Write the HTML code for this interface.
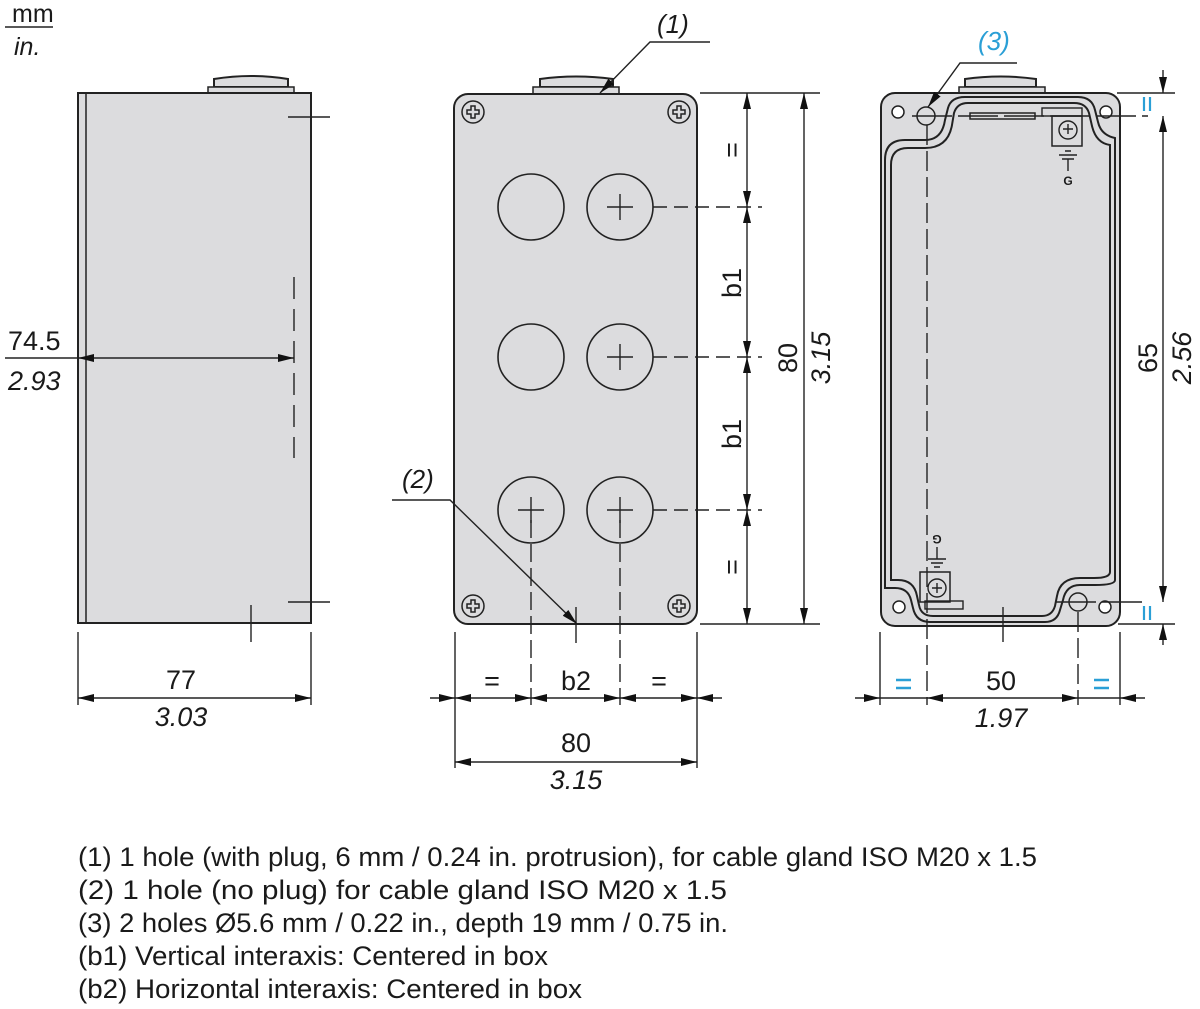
<!DOCTYPE html>
<html><head><meta charset="utf-8"><style>
body{margin:0;background:#fff}
svg{display:block}
text{font-family:"Liberation Sans",Arial,sans-serif;fill:#1a1a1a}
.i{font-style:italic}
.b{fill:#2a9fd6}
</style></head><body>
<svg width="1200" height="1009" viewBox="0 0 1200 1009" xmlns="http://www.w3.org/2000/svg">
<defs>
<marker id="a" viewBox="0 0 16 8" refX="16" refY="4" markerWidth="16" markerHeight="8" markerUnits="userSpaceOnUse" orient="auto-start-reverse"><path d="M0,0 L16,4 L0,8 Z" fill="#111"/></marker>
</defs>
<g stroke="#222" fill="none" stroke-width="1.4">
<!-- units -->
<text x="12" y="22" font-size="25" stroke="none">mm</text>
<line x1="5" y1="27" x2="53" y2="27"/>
<text x="14" y="55" font-size="25" class="i" stroke="none">in.</text>

<!-- LEFT VIEW -->
<path d="M214,87 L214,79 Q251,73 288,79 L288,87 Z" fill="#dcdcde" stroke-width="2"/>
<rect x="208" y="87" width="86" height="6" fill="#dcdcde" stroke-width="1.5"/>
<rect x="78" y="93" width="233" height="530" fill="#dcdcde" stroke-width="2"/>
<line x1="86" y1="93" x2="86" y2="623" stroke-width="1.5"/>
<line x1="288" y1="117" x2="330" y2="117"/>
<line x1="288" y1="602" x2="330" y2="602"/>
<line x1="251" y1="605" x2="251" y2="642"/>
<line x1="294" y1="277" x2="294" y2="458" stroke-dasharray="22,10"/>
<line x1="5" y1="358" x2="78" y2="358"/>
<line x1="78" y1="358" x2="294" y2="358" marker-start="url(#a)" marker-end="url(#a)"/>
<text x="8" y="350" font-size="27" stroke="none">74.5</text>
<text x="8" y="390" font-size="27" class="i" stroke="none">2.93</text>
<line x1="78" y1="632" x2="78" y2="705"/>
<line x1="311" y1="632" x2="311" y2="705"/>
<line x1="78" y1="698" x2="311" y2="698" marker-start="url(#a)" marker-end="url(#a)"/>
<text x="181" y="689" font-size="27" text-anchor="middle" stroke="none">77</text>
<text x="181" y="726" font-size="27" text-anchor="middle" class="i" stroke="none">3.03</text>

<!-- MIDDLE VIEW -->
<path d="M540,87 L540,79 Q576,74 613,79 L613,87 Z" fill="#dcdcde" stroke-width="2"/>
<rect x="533" y="87" width="86" height="7" fill="#dcdcde" stroke-width="1.5"/>
<rect x="454" y="94" width="243" height="530" rx="14" fill="#dcdcde" stroke-width="2"/>
<g stroke-width="1.5">
<circle cx="473" cy="112" r="11"/><circle cx="679" cy="112" r="11"/>
<circle cx="473" cy="606" r="11"/><circle cx="679" cy="606" r="11"/>
<path d="M467,110 h4 v-4 h4 v4 h4 v4 h-4 v4 h-4 v-4 h-4 z M673,110 h4 v-4 h4 v4 h4 v4 h-4 v4 h-4 v-4 h-4 z M467,604 h4 v-4 h4 v4 h4 v4 h-4 v4 h-4 v-4 h-4 z M673,604 h4 v-4 h4 v4 h4 v4 h-4 v4 h-4 v-4 h-4 z"/>
</g>
<g stroke-width="1.6">
<circle cx="531" cy="207" r="33"/><circle cx="620" cy="207" r="33"/>
<circle cx="531" cy="357" r="33"/><circle cx="620" cy="357" r="33"/>
<circle cx="531" cy="510" r="33"/><circle cx="620" cy="510" r="33"/>
</g>
<path d="M607,207 h26 M620,194 v26 M607,357 h26 M620,344 v26 M518,510 h26 M531,497 v26 M607,510 h26 M620,497 v26"/>
<line x1="653" y1="207" x2="762" y2="207" stroke-dasharray="14,7"/>
<line x1="653" y1="357" x2="762" y2="357" stroke-dasharray="14,7"/>
<line x1="653" y1="510" x2="762" y2="510" stroke-dasharray="14,7"/>
<line x1="531" y1="520" x2="531" y2="705" stroke-dasharray="18,6"/>
<line x1="620" y1="520" x2="620" y2="705" stroke-dasharray="18,6"/>
<line x1="576" y1="607" x2="576" y2="643"/>
<line x1="455" y1="632" x2="455" y2="768"/>
<line x1="697" y1="632" x2="697" y2="768"/>
<line x1="700" y1="93" x2="820" y2="93"/>
<line x1="700" y1="624" x2="820" y2="624"/>
<line x1="747" y1="93" x2="747" y2="207" marker-start="url(#a)" marker-end="url(#a)"/>
<line x1="747" y1="207" x2="747" y2="357" marker-start="url(#a)" marker-end="url(#a)"/>
<line x1="747" y1="357" x2="747" y2="510" marker-start="url(#a)" marker-end="url(#a)"/>
<line x1="747" y1="510" x2="747" y2="624" marker-start="url(#a)" marker-end="url(#a)"/>
<line x1="804" y1="93" x2="804" y2="624" marker-start="url(#a)" marker-end="url(#a)"/>
<text transform="translate(741,150) rotate(-90)" font-size="27" text-anchor="middle" stroke="none">=</text>
<text transform="translate(741,283) rotate(-90)" font-size="27" text-anchor="middle" stroke="none">b1</text>
<text transform="translate(741,434) rotate(-90)" font-size="27" text-anchor="middle" stroke="none">b1</text>
<text transform="translate(741,567) rotate(-90)" font-size="27" text-anchor="middle" stroke="none">=</text>
<text transform="translate(797,358) rotate(-90)" font-size="27" text-anchor="middle" stroke="none">80</text>
<text transform="translate(830,358) rotate(-90)" font-size="27" text-anchor="middle" class="i" stroke="none">3.15</text>
<line x1="430" y1="698" x2="455" y2="698" marker-end="url(#a)"/>
<line x1="455" y1="698" x2="531" y2="698" marker-start="url(#a)" marker-end="url(#a)"/>
<line x1="531" y1="698" x2="620" y2="698" marker-start="url(#a)" marker-end="url(#a)"/>
<line x1="620" y1="698" x2="697" y2="698" marker-start="url(#a)" marker-end="url(#a)"/>
<line x1="722" y1="698" x2="697" y2="698" marker-end="url(#a)"/>
<text x="492" y="690" font-size="27" text-anchor="middle" stroke="none">=</text>
<text x="576" y="690" font-size="27" text-anchor="middle" stroke="none">b2</text>
<text x="659" y="690" font-size="27" text-anchor="middle" stroke="none">=</text>
<line x1="455" y1="762" x2="697" y2="762" marker-start="url(#a)" marker-end="url(#a)"/>
<text x="576" y="752" font-size="27" text-anchor="middle" stroke="none">80</text>
<text x="576" y="789" font-size="27" text-anchor="middle" class="i" stroke="none">3.15</text>
<path d="M710,42 L650,42 L600,93" marker-end="url(#a)"/>
<text x="657" y="33" font-size="26" class="i" stroke="none">(1)</text>
<path d="M392,500 L450,500 L577,624" marker-end="url(#a)"/>
<text x="402" y="488" font-size="26" class="i" stroke="none">(2)</text>

<!-- RIGHT VIEW -->
<path d="M965,87 L965,79 Q1001,74 1036,79 L1036,87 Z" fill="#dcdcde" stroke-width="2"/>
<rect x="959" y="87" width="86" height="6" fill="#dcdcde" stroke-width="1.5"/>
<rect x="881" y="93" width="239" height="533" rx="14" fill="#dcdcde" stroke-width="2"/>
<path d="M885,160 Q885,140 905,140 L925,140 Q942,140 945,120 L948,108 Q951,97 965,97 L1078,97 Q1092,97 1095,110 L1098,122 Q1101,135 1115,138 L1115,580 Q1115,585 1095,585 L1080,585 Q1066,585 1063,600 L1060,610 Q1057,622 1045,622 L930,622 Q916,622 913,608 L911,600 Q908,588 895,588 L885,588 Z" stroke-width="2"/>
<path d="M891,165 Q891,148 908,148 L925,148 Q948,148 952,125 L954,113 Q957,103 968,103 L1074,103 Q1086,103 1089,113 L1092,126 Q1096,143 1110,145 L1110,572 Q1110,578 1094,578 L1080,578 Q1060,578 1057,596 L1055,606 Q1052,616 1042,616 L933,616 Q921,616 919,605 L917,596 Q914,580 898,580 L891,580 Z" stroke-width="2"/>
<circle cx="898" cy="112" r="6" fill="#fff" stroke-width="1.5"/>
<circle cx="1106" cy="112" r="6" fill="#fff" stroke-width="1.5"/>
<circle cx="899" cy="607" r="6" fill="#fff" stroke-width="1.5"/>
<circle cx="1105" cy="607" r="6" fill="#fff" stroke-width="1.5"/>
<circle cx="926" cy="116" r="9" fill="#dcdcde" stroke-width="1.5"/>
<circle cx="1078" cy="602" r="9" fill="#dcdcde" stroke-width="1.5"/>
<rect x="970" y="113" width="65" height="6" stroke-width="1.5"/>
<rect x="1042" y="108" width="40" height="8"/>
<rect x="1052" y="116" width="30" height="30" stroke-width="1.5"/>
<circle cx="1068" cy="130" r="9"/>
<path d="M1063,129 h10 M1068,124 v10"/>
<path d="M1059,155 h18 M1062,159 h12 M1065,151 h6 M1068,159 v12"/>
<text x="1068" y="185" font-size="12" font-weight="bold" text-anchor="middle" stroke="none">G</text>
<rect x="920" y="572" width="30" height="30" stroke-width="1.5"/>
<circle cx="937" cy="588" r="9"/>
<path d="M932,588 h10 M937,583 v10"/>
<rect x="925" y="601" width="38" height="8"/>
<path d="M928,559 h18 M931,563 h12 M934,567 h6 M937,547 v12"/>
<text transform="translate(937,535) rotate(180)" font-size="12" font-weight="bold" text-anchor="middle" stroke="none">G</text>
<line x1="927" y1="125" x2="927" y2="705" stroke-dasharray="20,6"/>
<line x1="1078" y1="612" x2="1078" y2="705" stroke-dasharray="20,6"/>
<line x1="1003" y1="607" x2="1003" y2="642"/>
<line x1="912" y1="116" x2="1148" y2="116" stroke-dasharray="40,6"/>
<line x1="1056" y1="602" x2="1148" y2="602" stroke-dasharray="40,6"/>
<line x1="1117" y1="93" x2="1175" y2="93"/>
<line x1="1118" y1="624" x2="1175" y2="624"/>
<line x1="880" y1="632" x2="880" y2="705"/>
<line x1="1120" y1="632" x2="1120" y2="705"/>
<line x1="1163" y1="70" x2="1163" y2="93" marker-end="url(#a)"/>
<line x1="1163" y1="116" x2="1163" y2="602" marker-start="url(#a)" marker-end="url(#a)"/>
<line x1="1163" y1="645" x2="1163" y2="624" marker-end="url(#a)"/>
<text transform="translate(1157,358) rotate(-90)" font-size="27" text-anchor="middle" stroke="none">65</text>
<text transform="translate(1191,358) rotate(-90)" font-size="27" text-anchor="middle" class="i" stroke="none">2.56</text>
<path d="M1144,97 v14 M1150,97 v14 M1144,606 v14 M1150,606 v14" stroke="#2a9fd6" stroke-width="2.2"/>
<line x1="855" y1="698" x2="880" y2="698" marker-end="url(#a)"/>
<line x1="927" y1="698" x2="1078" y2="698" marker-start="url(#a)" marker-end="url(#a)"/>
<line x1="1145" y1="698" x2="1120" y2="698" marker-end="url(#a)"/>
<line x1="880" y1="698" x2="927" y2="698"/>
<line x1="1078" y1="698" x2="1120" y2="698"/>
<path d="M896,680 h15 M896,688 h15 M1094,680 h15 M1094,688 h15" stroke="#2a9fd6" stroke-width="2.4"/>
<text x="1001" y="690" font-size="27" text-anchor="middle" stroke="none">50</text>
<text x="1001" y="727" font-size="27" text-anchor="middle" class="i" stroke="none">1.97</text>
<path d="M1017,63 L960,63 L928,107" marker-end="url(#a)"/>
<text x="978" y="50" font-size="26" class="i b" stroke="none">(3)</text>
</g>

<g font-size="27">
<text x="78" y="866" textLength="959" lengthAdjust="spacingAndGlyphs">(1) 1 hole (with plug, 6 mm / 0.24 in. protrusion), for cable gland ISO M20 x 1.5</text>
<text x="78" y="899" textLength="649" lengthAdjust="spacingAndGlyphs">(2) 1 hole (no plug) for cable gland ISO M20 x 1.5</text>
<text x="78" y="932" textLength="650" lengthAdjust="spacingAndGlyphs">(3) 2 holes Ø5.6 mm / 0.22 in., depth 19 mm / 0.75 in.</text>
<text x="78" y="965" textLength="470" lengthAdjust="spacingAndGlyphs">(b1) Vertical interaxis: Centered in box</text>
<text x="78" y="998" textLength="504" lengthAdjust="spacingAndGlyphs">(b2) Horizontal interaxis: Centered in box</text>
</g>
</svg>
</body></html>
